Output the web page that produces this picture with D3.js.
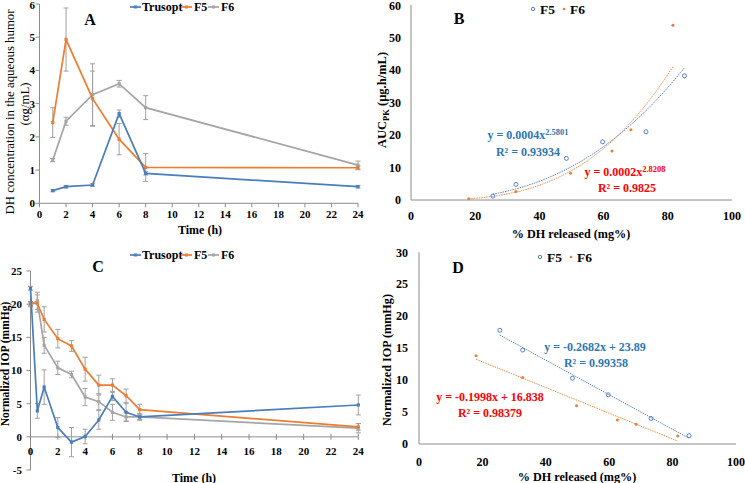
<!DOCTYPE html>
<html><head><meta charset="utf-8">
<script src="https://cdn.jsdelivr.net/npm/d3@7"></script>
<style>
body{margin:0;background:#fff;}
svg{font-family:"Liberation Serif","Times New Roman",serif;}
</style></head>
<body>
<svg id="c" width="745" height="483"></svg>
<script>
// ---- Panel A: DH concentration in aqueous humor ----
const timesA = [1, 2, 4, 6, 8, 24];
const trusoptA = [0.38, 0.50, 0.55, 2.70, 0.90, 0.50];
const trusoptAErr = [0.03, 0.04, 0.04, 0.11, 0.05, 0.04];
const f5A = [2.43, 4.93, 3.15, 1.93, 1.08, 1.07];
const f5AErr = [0.45, 0.95, 0.83, 0.47, 0.42, 0.06];
const f6A = [1.30, 2.47, 3.27, 3.60, 2.88, 1.15];
const f6AErr = [0.05, 0.12, 0.93, 0.10, 0.36, 0.12];
const xTicksA = [0,2,4,6,8,10,12,14,16,18,20,22,24];
const yTicksA = [0,1,2,3,4,5,6];

// ---- Panel B / D: release vs AUC / IOP ----
const releaseF5 = [25.5, 32.7, 48.4, 59.7, 73.2, 85.2];
const releaseF6 = [18.0, 32.7, 49.7, 62.6, 68.5, 81.6];
const aucF5 = [1.2, 4.8, 12.8, 17.9, 21.0, 38.2];
const aucF6 = [0.4, 2.6, 8.2, 15.1, 21.6, 53.8];
const iopF5 = [17.8, 14.7, 10.3, 7.7, 4.0, 1.3];
const iopF6 = [13.8, 10.4, 6.0, 3.76, 3.1, 1.25];
const xTicksBD = [0,20,40,60,80,100];
const yTicksB = [0,10,20,30,40,50,60];
const yTicksD = [0,5,10,15,20,25,30];

// ---- Panel C: normalized IOP over time ----
const timesC = [0, 0.5, 1, 2, 3, 4, 5, 6, 7, 8, 24];
const trusoptC = [22.4, 3.9, 7.5, 1.4, -0.8, 0.05, 2.55, 6.1, 3.7, 3.0, 4.8];
const trusoptCErr = [0.3, 1.1, 2.6, 1.5, 2.2, 1.1, 1.4, 0.6, 1.3, 0.4, 1.5];
const f5C = [20.1, 20.1, 17.7, 14.8, 13.7, 10.2, 7.8, 7.8, 6.2, 4.1, 1.5];
const f5CErr = [0.3, 1.3, 1.9, 1.4, 0.8, 1.8, 1.5, 0.95, 1.0, 0.8, 0.5];
const f6C = [19.9, 20.5, 13.8, 10.4, 9.4, 6.0, 5.3, 3.7, 3.0, 3.0, 1.3];
const f6CErr = [0.3, 1.3, 1.2, 1.0, 0.5, 1.3, 1.2, 1.2, 0.7, 0.5, 0.7];
const xTicksC = [0,2,4,6,8,10,12,14,16,18,20,22,24];
const yTicksC = [-5,0,5,10,15,20,25];

const seriesNames = ["Trusopt", "F5", "F6"];
const scatterNames = ["F5", "F6"];
const colors = {Trusopt:"#4a7ebb", F5:"#ed7d31", F6:"#a5a5a5"};
const blueText = "#2e75b6", redText = "#ff0000";
const axisCol = "#8c8c8c", errCol = "#a0a0a0";

const svg = d3.select("#c");

function yAxisDraw(g, y, ticks, x0, tickOut, labelX, fs){
  g.append("line").attr("x1",x0).attr("x2",x0).attr("y1",y(ticks[0])).attr("y2",y(ticks[ticks.length-1])).attr("stroke",axisCol);
  ticks.forEach(t=>{
    if(tickOut) g.append("line").attr("x1",x0-4).attr("x2",x0).attr("y1",y(t)).attr("y2",y(t)).attr("stroke",axisCol);
    g.append("text").attr("x",labelX).attr("y",Math.max(y(t)+fs*0.35, fs*0.8)).attr("text-anchor","end")
      .attr("font-size",fs).attr("font-weight","bold").text(t);
  });
}
function xAxisDraw(g, x, ticks, y0, tickMode, labelY, fs){
  g.append("line").attr("x1",x(ticks[0])).attr("x2",x(ticks[ticks.length-1])).attr("y1",y0).attr("y2",y0).attr("stroke",axisCol);
  ticks.forEach(t=>{
    if(tickMode==="out") g.append("line").attr("x1",x(t)).attr("x2",x(t)).attr("y1",y0).attr("y2",y0+4).attr("stroke",axisCol);
    if(tickMode==="cross") g.append("line").attr("x1",x(t)).attr("x2",x(t)).attr("y1",y0-3).attr("y2",y0+3).attr("stroke",axisCol);
    g.append("text").attr("x",x(t)).attr("y",labelY).attr("text-anchor","middle")
      .attr("font-size",fs).attr("font-weight","bold").text(t);
  });
}
function errBars(g, x, y, xs, vals, errs){
  xs.forEach((t,i)=>{
    const a=y(vals[i]-errs[i]), b=y(vals[i]+errs[i]), cx=x(t);
    g.append("line").attr("x1",cx).attr("x2",cx).attr("y1",a).attr("y2",b).attr("stroke",errCol).attr("stroke-width",1);
    [a,b].forEach(yy=>g.append("line").attr("x1",cx-2.5).attr("x2",cx+2.5).attr("y1",yy).attr("y2",yy).attr("stroke",errCol).attr("stroke-width",1));
  });
}
function lineSeries(g, x, y, xs, vals, color){
  const ln = d3.line().x((d,i)=>x(xs[i])).y(d=>y(d));
  g.append("path").attr("d",ln(vals)).attr("fill","none").attr("stroke",color).attr("stroke-width",1.7);
  g.selectAll(null).data(vals).enter().append("rect")
    .attr("x",(d,i)=>x(xs[i])-1.6).attr("y",d=>y(d)-1.6).attr("width",3.2).attr("height",3.2)
    .attr("fill",color);
}
function lineLegend(g, items, yy){
  const pos = {Trusopt:[130,142], F5:[181,194], F6:[208,221]};
  items.forEach(n=>{
    const [lx,tx] = pos[n];
    g.append("line").attr("x1",lx).attr("x2",lx+11).attr("y1",yy).attr("y2",yy).attr("stroke",colors[n]).attr("stroke-width",1.7);
    g.append("rect").attr("x",lx+4).attr("y",yy-1.5).attr("width",3).attr("height",3).attr("fill",colors[n]);
    g.append("text").attr("x",tx).attr("y",yy+4.3).attr("font-size",12).attr("font-weight","bold").text(n);
  });
}
function label(g, x, y, txt, size){
  g.append("text").attr("x",x).attr("y",y).attr("text-anchor","middle").attr("font-size",size||16).attr("font-weight","bold").text(txt);
}
function rotTitle(g, x, y, size, weight){
  return g.append("text").attr("transform",`translate(${x},${y}) rotate(-90)`).attr("text-anchor","middle")
    .attr("font-size",size).attr("font-weight",weight);
}

// ===== Panel A =====
{
  const g = svg.append("g");
  const x = d3.scaleLinear().domain([0,24]).range([39.5,358]);
  const y = d3.scaleLinear().domain([0,6]).range([203.3,4]);
  yAxisDraw(g,y,yTicksA,39.5,true,35,11);
  xAxisDraw(g,x,xTicksA,203.3,"out",217.5,11);
  errBars(g,x,y,timesA,trusoptA,trusoptAErr);
  errBars(g,x,y,timesA,f5A,f5AErr);
  errBars(g,x,y,timesA,f6A,f6AErr);
  lineSeries(g,x,y,timesA,f6A,colors.F6);
  lineSeries(g,x,y,timesA,f5A,colors.F5);
  lineSeries(g,x,y,timesA,trusoptA,colors.Trusopt);
  lineLegend(g,seriesNames,7);
  label(g,90,25,"A");
  rotTitle(g,14,112,12.8,"normal").text("DH concentration in the aqueous humor");
  rotTitle(g,29,104,12.8,"normal").text("(αg/mL)");
  g.append("text").attr("x",200).attr("y",233.5).attr("text-anchor","middle").attr("font-size",12).attr("font-weight","bold").text("Time (h)");
}

// regression helpers
function linFit(xs, ys){
  const mx=d3.mean(xs), my=d3.mean(ys);
  let sxy=0,sxx=0; xs.forEach((v,i)=>{sxy+=(v-mx)*(ys[i]-my); sxx+=(v-mx)*(v-mx);});
  const b=sxy/sxx; return {b, a:my-b*mx};
}
function scatterLegend(g, x0, yy){
  g.append("circle").attr("cx",x0).attr("cy",yy).attr("r",1.7).attr("fill","none").attr("stroke","#4472c4").attr("stroke-width",0.9);
  g.append("text").attr("x",x0+7).attr("y",yy+5).attr("font-size",13.5).attr("font-weight","bold").text(scatterNames[0]);
  g.append("circle").attr("cx",x0+31).attr("cy",yy).attr("r",1.3).attr("fill","#ed7d31");
  g.append("text").attr("x",x0+37).attr("y",yy+5).attr("font-size",13.5).attr("font-weight","bold").text(scatterNames[1]);
}
function scatterPts(g, x, y, xs, ys){
  xs.forEach((v,i)=>g.append("circle").attr("cx",x(v)).attr("cy",y(ys[i])).attr("r",2).attr("fill","none").attr("stroke","#4472c4").attr("stroke-width",0.9));
}
function dotPts(g, x, y, xs, ys){
  xs.forEach((v,i)=>g.append("circle").attr("cx",x(v)).attr("cy",y(ys[i])).attr("r",1.5).attr("fill","#ed7d31"));
}
function eqText(g, x, yy, main, sup, color){
  const t = g.append("text").attr("x",x).attr("y",yy).attr("text-anchor","middle").attr("font-size",12).attr("font-weight","bold").attr("fill",color);
  t.append("tspan").text(main);
  if(sup) t.append("tspan").attr("dy",-4).attr("font-size",8.5).text(sup);
}

// ===== Panel B =====
{
  const g = svg.append("g");
  const x = d3.scaleLinear().domain([0,100]).range([411,732]);
  const y = d3.scaleLinear().domain([0,60]).range([200,5]);
  yAxisDraw(g,y,yTicksB,411,false,401,12);
  xAxisDraw(g,x,xTicksBD,200,"none",220,12);
  const powCurve = (xs, ys, color) => {
    const f = linFit(xs.map(Math.log), ys.map(Math.log));
    const [lo,hi] = d3.extent(xs);
    const pts = d3.range(0,101).map(k=>lo+(hi-lo)*k/100);
    const ln = d3.line().x(d=>x(d)).y(d=>y(Math.exp(f.a)*Math.pow(d,f.b)));
    g.append("path").attr("d",ln(pts)).attr("fill","none").attr("stroke",color).attr("stroke-width",0.9).attr("stroke-dasharray","1.5,1");
  };
  powCurve(releaseF5, aucF5, "#4472c4");
  powCurve(releaseF6, aucF6, "#ed7d31");
  scatterPts(g,x,y,releaseF5,aucF5);
  dotPts(g,x,y,releaseF6,aucF6);
  scatterLegend(g,533,9);
  label(g,459,24,"B");
  const t = rotTitle(g,386,100,12.5,"bold");
  t.append("tspan").text("AUC");
  t.append("tspan").attr("font-size",8.5).attr("dy",3).text("PK");
  t.append("tspan").attr("dy",-3).text(" (µg.h/mL)");
  g.append("text").attr("x",571).attr("y",237.5).attr("text-anchor","middle").attr("font-size",12.2).attr("font-weight","bold").text("% DH released (mg%)");
  eqText(g,528,139,"y = 0.0004x","2.5801",blueText);
  eqText(g,528,156,"R² = 0.93934",null,blueText);
  eqText(g,625,176,"y = 0.0002x","2.8208",redText);
  eqText(g,627,192,"R² = 0.9825",null,redText);
}

// ===== Panel C =====
{
  const g = svg.append("g");
  const x = d3.scaleLinear().domain([0,24]).range([30.5,358.3]);
  const y = d3.scaleLinear().domain([-5,25]).range([470,271]);
  yAxisDraw(g,y,yTicksC,30.5,true,22,11);
  xAxisDraw(g,x,xTicksC,y(0),"cross",455,11);
  errBars(g,x,y,timesC,trusoptC,trusoptCErr);
  errBars(g,x,y,timesC,f5C,f5CErr);
  errBars(g,x,y,timesC,f6C,f6CErr);
  lineSeries(g,x,y,timesC,f6C,colors.F6);
  lineSeries(g,x,y,timesC,f5C,colors.F5);
  lineSeries(g,x,y,timesC,trusoptC,colors.Trusopt);
  lineLegend(g,seriesNames,255);
  label(g,98,272,"C");
  rotTitle(g,9,364,11.5,"bold").text("Normalized IOP (mmHg)");
  g.append("text").attr("x",194).attr("y",481.5).attr("text-anchor","middle").attr("font-size",12).attr("font-weight","bold").text("Time (h)");
}

// ===== Panel D =====
{
  const g = svg.append("g");
  const x = d3.scaleLinear().domain([0,100]).range([419,736]);
  const y = d3.scaleLinear().domain([0,30]).range([444,252.3]);
  yAxisDraw(g,y,yTicksD,419,false,408,12);
  xAxisDraw(g,x,xTicksBD,444,"none",466,12);
  const linLine = (xs, ys, color) => {
    const f = linFit(xs, ys);
    const [lo,hi] = d3.extent(xs);
    g.append("line").attr("x1",x(lo)).attr("x2",x(hi)).attr("y1",y(f.a+f.b*lo)).attr("y2",y(f.a+f.b*hi))
      .attr("stroke",color).attr("stroke-width",0.9).attr("stroke-dasharray","1.5,1");
  };
  linLine(releaseF5, iopF5, "#4472c4");
  linLine(releaseF6, iopF6, "#ed7d31");
  scatterPts(g,x,y,releaseF5,iopF5);
  dotPts(g,x,y,releaseF6,iopF6);
  scatterLegend(g,540,257);
  label(g,458,273,"D");
  rotTitle(g,391,360,12.2,"bold").text("Normalized IOP (mmHg)");
  g.append("text").attr("x",577).attr("y",481).attr("text-anchor","middle").attr("font-size",12.2).attr("font-weight","bold").text("% DH released (mg%)");
  eqText(g,595,351,"y = -0.2682x + 23.89",null,blueText);
  eqText(g,596,367,"R² = 0.99358",null,blueText);
  eqText(g,490,401,"y = -0.1998x + 16.838",null,redText);
  eqText(g,490,417,"R² = 0.98379",null,redText);
}
</script>
</body></html>
